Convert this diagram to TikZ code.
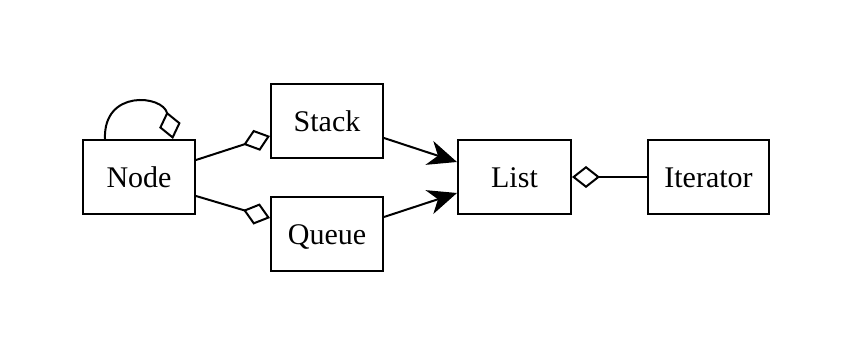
\documentclass[tikz,border=0pt]{standalone}
\usepackage{fontspec}
\setmainfont{Liberation Serif}
\usetikzlibrary{arrows.meta}
\begin{document}
\begin{tikzpicture}[x=1pt,y=-1pt,
  box/.style={draw,line width=2pt,minimum height=74pt,inner sep=0pt,text height=22pt,text depth=0pt,font=\fontsize{30}{36}\selectfont},
  conn/.style={line width=2pt},
  agg/.style={conn,-{Diamond[open,length=28pt,width=22pt,line width=2pt]}},
  assoc/.style={conn,-{Stealth[length=29pt,width=25pt,inset=9pt]}}]
\useasboundingbox (0,0) rectangle (855,355);
\node[box,minimum width=112pt] (node) at (139,177) {Node};
\node[box,minimum width=112pt] (stack) at (327,121) {Stack};
\node[box,minimum width=112pt] (queue) at (327,234) {Queue};
\node[box,minimum width=113pt] (list) at (514.5,177) {List};
\node[box,minimum width=121pt] (iter) at (708.5,177) {Iterator};
\draw[agg] ([yshift=17pt]node.east) -- ([yshift=-15pt]stack.west);
\draw[agg] ([yshift=-19pt]node.east) -- ([yshift=16pt]queue.west);
\draw[assoc] ([yshift=-17pt]stack.east) -- ([yshift=15pt]list.west);
\draw[assoc] ([yshift=17pt]queue.east) -- ([yshift=-16pt]list.west);
\draw[agg] (iter.west) -- (list.east);
\draw[agg] ([xshift=-34pt]node.north) .. controls +(-2,-50) and +(-10,-44) .. ([xshift=34pt]node.north);
\end{tikzpicture}
\end{document}
